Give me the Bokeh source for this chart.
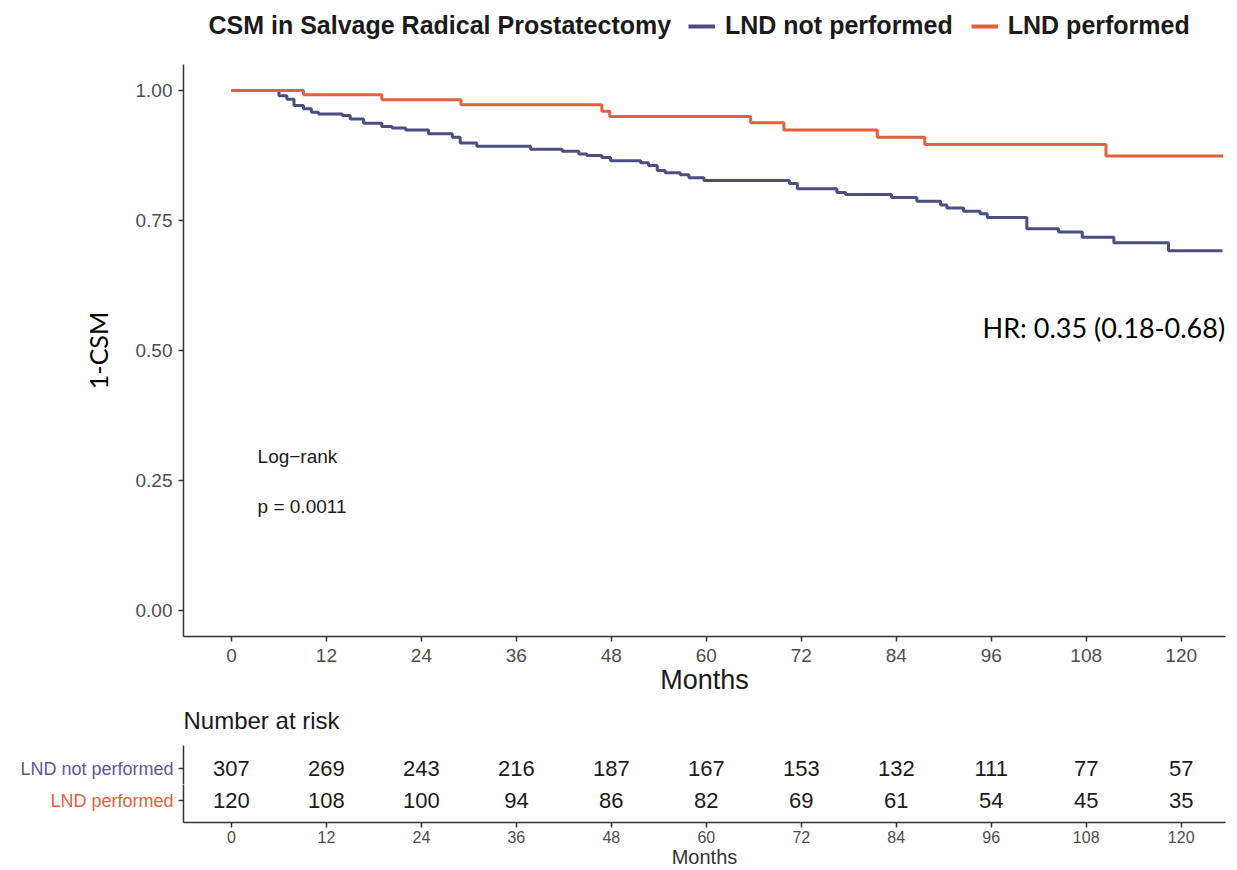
from bokeh.plotting import figure
from bokeh.models import (Range1d, FixedTicker, NumeralTickFormatter, Legend, LegendItem,
                          Label, ColumnDataSource)
from bokeh.layouts import column
from bokeh.core.properties import value
from bokeh.embed import file_html
from bokeh.resources import INLINE

# ---------------- data ----------------
series_names = ["LND not performed", "LND performed"]
blue = "#4B4C82"
orange = "#E2603B"
row_label_colors = ["#5B5797", "#E2603B"]

t_not = [0, 6.0, 7.0, 7.9, 9.1, 10.1, 11.0, 14.0, 15.0, 16.7, 19.0, 20.3, 22.0, 24.9, 27.9,
         28.9, 31.0, 37.8, 41.8, 43.9, 44.9, 46.8, 47.9, 51.7, 52.7, 53.8, 54.8, 56.7, 57.8,
         59.7, 70.5, 71.5, 76.5, 77.6, 83.4, 86.6, 89.6, 90.4, 92.5, 94.6, 95.5, 100.5, 104.5,
         107.5, 111.5, 118.4, 125.2]
s_not = [1.0, 0.990, 0.983, 0.971, 0.965, 0.958, 0.955, 0.952, 0.945, 0.937, 0.931, 0.928,
         0.924, 0.917, 0.910, 0.899, 0.893, 0.887, 0.883, 0.878, 0.875, 0.871, 0.865, 0.861,
         0.856, 0.846, 0.842, 0.838, 0.832, 0.827, 0.821, 0.811, 0.804, 0.800, 0.794, 0.787,
         0.780, 0.774, 0.768, 0.763, 0.756, 0.734, 0.728, 0.718, 0.707, 0.692, 0.692]

t_perf = [0, 9.1, 19.0, 29.0, 46.8, 47.8, 65.6, 69.8, 81.6, 87.6, 110.5, 125.3]
s_perf = [1.0, 0.992, 0.982, 0.9725, 0.960, 0.950, 0.938, 0.924, 0.910, 0.896, 0.874, 0.874]

x_ticks = [0, 12, 24, 36, 48, 60, 72, 84, 96, 108, 120]
y_ticks = [0, 0.25, 0.5, 0.75, 1.0]

risk_times = [0, 12, 24, 36, 48, 60, 72, 84, 96, 108, 120]
risk_not = [307, 269, 243, 216, 187, 167, 153, 132, 111, 77, 57]
risk_perf = [120, 108, 100, 94, 86, 82, 69, 61, 54, 45, 35]

title_text = "CSM in Salvage Radical Prostatectomy"
logrank_text = "Log\u2212rank"
p_text = "p = 0.0011"
hr_text = "HR: 0.35 (0.18-0.68)"
risk_title = "Number at risk"

X_MIN, X_MAX = -6.06, 125.6
W = 1229
FRAME_L, FRAME_R = 183, 1225
AX = "#333333"
TICKLAB = "#4d4d4d"
DARK = "#1a1a1a"
HELV = "Liberation Sans"


def style_axis(ax, size):
    ax.axis_line_color = AX
    ax.axis_line_width = 1.5
    ax.major_tick_line_color = AX
    ax.major_tick_line_width = 1.5
    ax.major_tick_out = 5
    ax.major_tick_in = 0
    ax.minor_tick_line_color = None
    ax.major_label_text_font = HELV
    ax.major_label_text_font_size = size
    ax.major_label_text_color = TICKLAB


def blank_fig(height):
    # frame is aligned with the main plot's frame by the column layout
    f = figure(width=W, height=height, x_range=Range1d(FRAME_L, FRAME_R),
               y_range=Range1d(height, 0),
               x_axis_location=None, y_axis_location=None, output_backend="svg",
               toolbar_location=None, min_border_left=FRAME_L, min_border_right=W - FRAME_R,
               min_border_top=0, min_border_bottom=0)
    f.outline_line_color = None
    f.xgrid.visible = False
    f.ygrid.visible = False
    return f


# ---------------- header (title + legend) ----------------
hdr = blank_fig(50)
hdr.extra_y_ranges = {"off": Range1d(5, 6)}   # the curves are kept out of view here
d_not = hdr.step(t_not, s_not, mode="after", line_color=blue, line_width=4, y_range_name="off")
d_perf = hdr.step(t_perf, s_perf, mode="after", line_color=orange, line_width=4,
                  y_range_name="off")
hdr.add_layout(Label(x=208, y=24, text=title_text, text_font=HELV, text_font_style="bold",
                     text_font_size="25px", text_color=DARK, text_baseline="middle"))
legend = Legend(items=[LegendItem(label=series_names[0], renderers=[d_not]),
                       LegendItem(label=series_names[1], renderers=[d_perf])],
                orientation="horizontal", location=(688 - FRAME_L, 10),
                label_text_font=HELV, label_text_font_style="bold", label_text_font_size="25px",
                label_text_color=DARK, glyph_width=27, glyph_height=26, label_standoff=10,
                spacing=18, padding=0, margin=0, border_line_color=None,
                background_fill_alpha=0)
hdr.add_layout(legend)

# ---------------- main plot ----------------
p = figure(width=W, height=650, x_range=Range1d(X_MIN, X_MAX), y_range=Range1d(-0.05, 1.05),
           output_backend="svg", toolbar_location=None,
           min_border_left=FRAME_L, min_border_right=W - FRAME_R, min_border_top=14,
           min_border_bottom=64)
p.outline_line_color = None
p.xgrid.visible = False
p.ygrid.visible = False

p.step(t_not, s_not, mode="after", line_color=blue, line_width=3)
p.step(t_perf, s_perf, mode="after", line_color=orange, line_width=3)

style_axis(p.xaxis[0], "19px")
style_axis(p.yaxis[0], "19px")

p.xaxis.ticker = FixedTicker(ticks=x_ticks)
p.xaxis.major_label_standoff = 7
p.xaxis.axis_label = "Months"
p.xaxis.axis_label_text_font = HELV
p.xaxis.axis_label_text_font_style = "normal"
p.xaxis.axis_label_text_font_size = "27px"
p.xaxis.axis_label_text_color = DARK
p.xaxis.axis_label_standoff = 0

p.yaxis.ticker = FixedTicker(ticks=y_ticks)
p.yaxis.formatter = NumeralTickFormatter(format="0.00")
p.yaxis.major_label_standoff = 6
p.yaxis.axis_label = "1-CSM"
p.yaxis.axis_label_text_font = "Lato"
p.yaxis.axis_label_text_font_style = "normal"
p.yaxis.axis_label_text_font_size = "25px"
p.yaxis.axis_label_text_color = "black"
p.yaxis.axis_label_standoff = 20

p.add_layout(Label(x=3.3, y=0.296, text=logrank_text, text_font=HELV, text_font_size="19px",
                   text_color=DARK, text_baseline="middle"))
p.add_layout(Label(x=3.3, y=0.2, text=p_text, text_font=HELV, text_font_size="19px",
                   text_color=DARK, text_baseline="middle"))
p.add_layout(Label(x=94.9, y=0.544, text=hr_text, text_font="Lato", text_font_size="27px",
                   text_color="black", text_baseline="middle"))

# ---------------- risk table ----------------
tbh = blank_fig(45)
tbh.add_layout(Label(x=FRAME_L, y=20, text=risk_title, text_font=HELV, text_font_size="24px",
                     text_color=DARK, text_baseline="middle"))


def risk_row(height, ybot, ytop, border_bottom, name, color, counts, show_x):
    f = figure(width=W, height=height, x_range=Range1d(X_MIN, X_MAX),
               y_range=Range1d(ybot, ytop), output_backend="svg", toolbar_location=None,
               min_border_left=FRAME_L, min_border_right=W - FRAME_R, min_border_top=0,
               min_border_bottom=border_bottom,
               x_axis_location="below" if show_x else None)
    f.outline_line_color = None
    f.xgrid.visible = False
    f.ygrid.visible = False
    src = ColumnDataSource(dict(x=risk_times, y=[0] * len(risk_times),
                                txt=[str(v) for v in counts]))
    f.text(x="x", y="y", text="txt", source=src, text_align="center", text_baseline="middle",
           text_font=value(HELV), text_font_size=value("22px"), text_color=DARK)
    style_axis(f.yaxis[0], "18px")
    f.yaxis.ticker = FixedTicker(ticks=[0])
    f.yaxis.major_label_overrides = {0: name}
    f.yaxis.major_label_text_color = color
    f.yaxis.major_label_standoff = 5
    if show_x:
        style_axis(f.xaxis[0], "16px")
        f.xaxis.ticker = FixedTicker(ticks=x_ticks)
        f.xaxis.major_label_standoff = 3
        f.xaxis.axis_label = "Months"
        f.xaxis.axis_label_text_font = HELV
        f.xaxis.axis_label_text_font_style = "normal"
        f.xaxis.axis_label_text_font_size = "20px"
        f.xaxis.axis_label_text_color = AX
        f.xaxis.axis_label_standoff = 0
    return f


r1 = risk_row(39, -0.5, 0.71875, 0, series_names[0], row_label_colors[0], risk_not, False)
r2 = risk_row(86, -0.6875, 0.5, 48, series_names[1], row_label_colors[1], risk_perf, True)

layout = column(hdr, p, tbh, r1, r2, spacing=0)
open("out.html", "w").write(file_html(layout, INLINE))
